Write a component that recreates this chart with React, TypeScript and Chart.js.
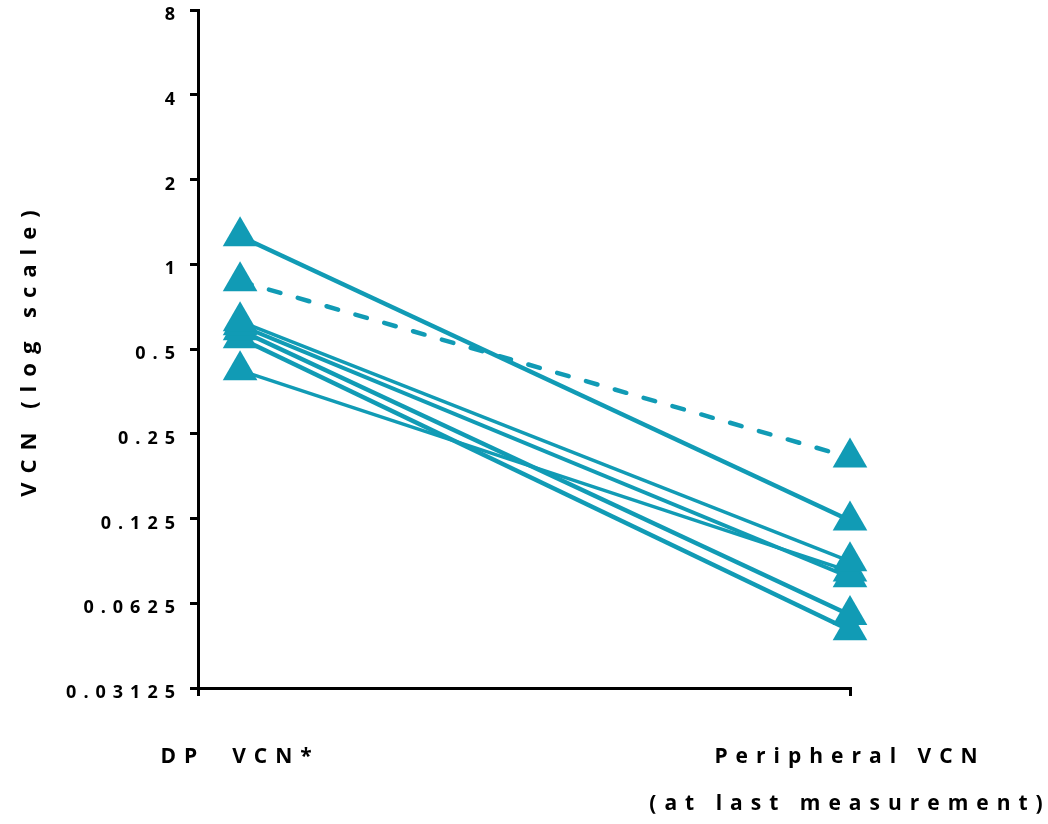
import React, { useEffect, useRef } from 'react';
import { Chart, registerables } from 'chart.js';

Chart.register(...registerables);

// ---------- data ----------
const categories: (string | string[])[] = ['DP  VCN*', ['Peripheral VCN', '(at last measurement)']];
const dpVcn = [1.257, 0.87, 0.627, 0.607, 0.583, 0.546, 0.42];
const peripheralVcn = [0.123, 0.206, 0.0881, 0.0773, 0.0568, 0.0501, 0.0811];
const yTickValues = [0.03125, 0.0625, 0.125, 0.25, 0.5, 1, 2, 4, 8];
const yTickLabels = ['0.03125', '0.0625', '0.125', '0.25', '0.5', '1', '2', '4', '8'];
const yTitle = 'VCN (log scale)';

// ---------- styles ----------
const COLOR = '#119BB5';
const lineWidths = [4.5, 4.5, 3.5, 4, 4.5, 4.5, 3.5];
const dashedSeries = [false, true, false, false, false, false, false];
const FONT = "'Open Sans', 'DejaVu Sans', sans-serif";
const X_MIN = -0.069;

const spacing: Record<string, { labels: string; title: string }> = {
  x: { labels: '8px', title: '0px' },
  y: { labels: '7px', title: '9px' },
};

const letterSpacingPlugin = {
  id: 'letterSpacing',
  beforeDraw(chart: any) {
    for (const id of Object.keys(spacing)) {
      const s: any = chart.scales[id];
      if (!s || s.__wrapped) continue;
      s.__wrapped = true;
      const dl = s.drawLabels;
      const dt = s.drawTitle;
      s.drawLabels = function (...args: any[]) {
        const ctx: any = this.ctx;
        const prev = ctx.letterSpacing;
        ctx.letterSpacing = spacing[id].labels;
        dl.apply(this, args);
        ctx.letterSpacing = prev;
      };
      s.drawTitle = function (...args: any[]) {
        const ctx: any = this.ctx;
        const prev = ctx.letterSpacing;
        ctx.letterSpacing = spacing[id].title;
        dt.apply(this, args);
        ctx.letterSpacing = prev;
      };
    }
  },
};

export default function App() {
  const ref = useRef<HTMLCanvasElement | null>(null);

  useEffect(() => {
    if (!ref.current) return;
    const datasets = dpVcn.map((v, i) => ({
      label: 'S' + (i + 1),
      data: [
        { x: 0, y: v },
        { x: 1, y: peripheralVcn[i] },
      ],
      borderColor: COLOR,
      backgroundColor: COLOR,
      borderWidth: lineWidths[i],
      borderDash: dashedSeries[i] ? [12, 18] : [],
      borderCapStyle: dashedSeries[i] ? 'round' : 'butt',
      pointStyle: 'triangle',
      pointRadius: 20,
      pointHoverRadius: 20,
      pointBorderWidth: 0,
      pointBackgroundColor: COLOR,
      showLine: true,
      clip: false as any,
      tension: 0,
    }));

    const chart = new Chart(ref.current, {
      type: 'scatter',
      data: { datasets: datasets as any },
      options: {
        responsive: false,
        animation: false,
        devicePixelRatio: 1,
        layout: { autoPadding: false, padding: { top: 10, right: 198, left: 0, bottom: 0 } },
        plugins: { legend: { display: false }, tooltip: { enabled: false } },
        scales: {
          x: {
            type: 'linear',
            min: X_MIN,
            max: 1,
            afterBuildTicks: (scale: any) => {
              scale.ticks = [{ value: X_MIN }, { value: 0 }, { value: 1 }];
            },
            afterFit: (scale: any) => {
              scale.height = 136;
              scale.paddingLeft = 0;
              scale.paddingRight = 0;
            },
            grid: {
              display: true,
              drawOnChartArea: false,
              drawTicks: true,
              tickLength: 8,
              lineWidth: 3,
              color: (ctx: any) => (ctx.tick && ctx.tick.value === 0 ? 'rgba(0,0,0,0)' : '#000'),
            },
            border: { display: true, color: '#000', width: 3 },
            ticks: {
              autoSkip: false,
              maxRotation: 0,
              minRotation: 0,
              padding: 38,
              color: '#000',
              font: { family: FONT, size: 21, weight: 'bold', lineHeight: 47 / 21 },
              callback: (value: any) => (value === 0 ? categories[0] : value === 1 ? categories[1] : ''),
            },
          },
          y: {
            type: 'logarithmic',
            min: 0.03125,
            max: 8,
            afterBuildTicks: (scale: any) => {
              scale.ticks = yTickValues.map((v) => ({ value: v }));
            },
            afterFit: (scale: any) => {
              scale.width = 198;
              scale.paddingTop = 0;
              scale.paddingBottom = 0;
            },
            grid: {
              display: true,
              drawOnChartArea: false,
              drawTicks: true,
              tickLength: 8,
              lineWidth: 3,
              color: '#000',
            },
            border: { display: true, color: '#000', width: 3 },
            ticks: {
              autoSkip: false,
              padding: 8,
              labelOffset: 5,
              color: '#000',
              font: { family: FONT, size: 18, weight: 'bold' },
              callback: (_v: any, index: number) => yTickLabels[index],
            },
            title: {
              display: true,
              text: yTitle,
              color: '#000',
              padding: { top: 17, bottom: 0 },
              font: { family: FONT, size: 22, weight: 'bold' },
            },
          },
        },
      } as any,
      plugins: [letterSpacingPlugin as any],
    });
    return () => chart.destroy();
  }, []);

  return (
    <div style={{ position: 'absolute', left: 0, top: 0, width: 1048, height: 824, background: '#fff' }}>
      <canvas ref={ref} width={1048} height={824} style={{ width: 1048, height: 824, display: 'block' }} />
    </div>
  );
}
